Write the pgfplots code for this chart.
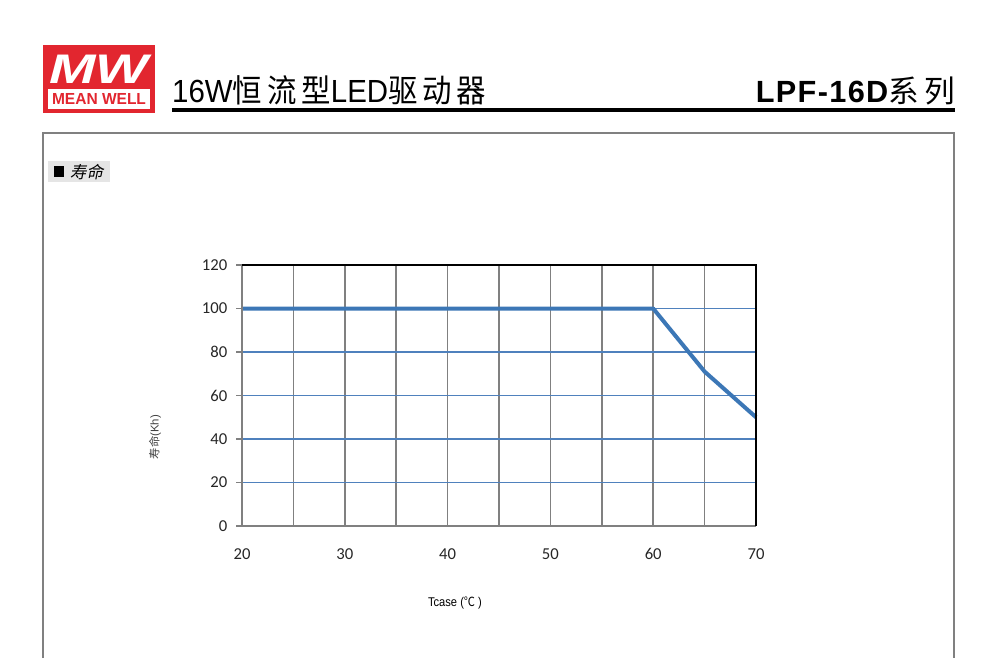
\documentclass[border=0pt]{standalone}
\usepackage{fontspec}
\usepackage{pgfplots}
\pgfplotsset{compat=1.18}
\setmainfont{Liberation Sans}
\newfontfamily\cjk{Noto Sans CJK SC}
\newfontfamily\calfont{Carlito}

\definecolor{mwred}{HTML}{E2262F}
\definecolor{lifeblue}{HTML}{3C77B6}
\definecolor{hgrid}{HTML}{4F81BD}
\definecolor{vgrid}{HTML}{808080}

\begin{document}
\begin{tikzpicture}
% page area, 1 unit = 0.75pt, y pointing down
\begin{scope}[x=0.75pt,y=-0.75pt]
\useasboundingbox (0,0) rectangle (1000,658);
% logo
\fill[mwred] (43,45) rectangle (155,113);
\node[white, font=\fontsize{31}{31}\selectfont\bfseries\itshape, xscale=1.35, inner sep=0, anchor=base] at (99,83) {MW};
\fill[white] (48,89) rectangle (150,109);
\node[mwred, font=\fontsize{12}{12}\selectfont\bfseries, inner sep=0, anchor=base, xscale=0.97] at (99,104.5) {MEAN WELL};
% header
\node[anchor=base west, inner sep=0, font=\fontsize{24}{24}\selectfont, xscale=0.92] at (172,102)
  {16W{\cjk 恒\,流\,型}LED{\cjk 驱\,动\,器}};
\node[anchor=base east, inner sep=0, font=\fontsize{23}{23}\selectfont] at (955,102)
  {\textbf{L\kern1pt P\kern1pt F\kern1pt -\kern1pt 1\kern1pt 6\kern1pt D}{\cjk 系\,列}};
\draw[black, line width=2.3pt] (172,110) -- (955,110);
% frame
\draw[gray, line width=0.8pt] (43,658) -- (43,133) -- (954,133) -- (954,658);
% section heading
\fill[black!10] (48,161) rectangle (110,182);
\fill[black] (54,166) rectangle (64,177);
\node[anchor=west, inner sep=0, font=\fontsize{12.5}{12.5}\selectfont\cjk, xslant=0.2] at (71,172) {寿命};
% axis titles
\node[rotate=90, inner sep=0, text=black!75, font=\fontsize{8.5}{8.5}\selectfont] at (155,437) {{\cjk 寿命}(Kh)};
\node[inner sep=0, font=\fontsize{9.5}{9.5}\selectfont, xscale=0.88] at (455,603) {Tcase ({\cjk ℃} )};
\end{scope}

\begin{axis}[
  at={(181.5pt,-394.5pt)}, anchor=south west,
  scale only axis, width=385.5pt, height=195.75pt,
  xmin=20, xmax=70, ymin=0, ymax=120,
  xtick={20,25,...,70}, xticklabels={20,,30,,40,,50,,60,,70},
  ytick={0,20,...,120},
  xtick pos=bottom, ytick pos=left,
  xmajorgrids, ymajorgrids,
  x grid style={vgrid, line width=1.3pt},
  y grid style={hgrid, line width=1.3pt},
  axis line style={draw=none},
  tick align=outside, major tick length=4.5pt,
  xtick style={draw=none},
  ytick style={vgrid, line width=1.1pt},
  ticklabel style={font=\fontsize{12.5}{12.5}\selectfont\calfont, text=black!85},
  /pgf/number format/assume math mode=true,
  xticklabel style={yshift=-9pt},
  yticklabel style={xshift=-3pt},
  clip=false,
]
\addplot[lifeblue, line width=3pt, line join=round] coordinates {
  (20,100) (60,100) (65,71) (70,50)
};
\draw[vgrid, line width=1.3pt] (rel axis cs:0,1) -- (rel axis cs:0,0) -- (rel axis cs:1,0);
\draw[black, line width=1.3pt] (rel axis cs:0,1) -- (rel axis cs:1,1) -- (rel axis cs:1,0);
\end{axis}
\end{tikzpicture}
\end{document}
